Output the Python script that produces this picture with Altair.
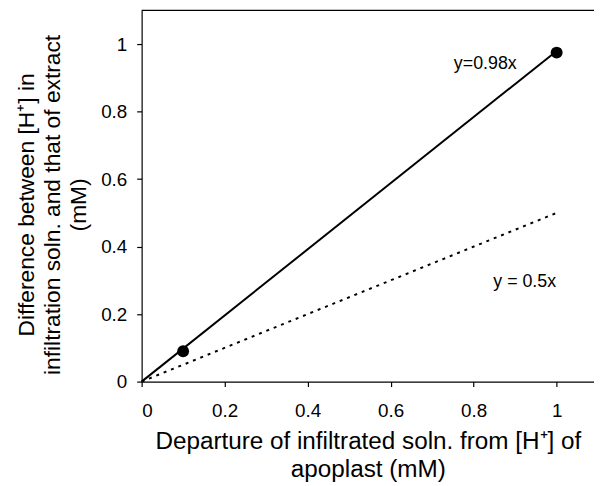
import altair as alt
import pandas as pd

# data
fit_x = [0, 1]
fit_098 = [0, 0.98]
fit_05 = [0, 0.5]
pts_x = [0.1, 1.0]
pts_y = [0.09, 0.975]
ann_text = ["y=0.98x", "y = 0.5x"]
ann_x = [0.828, 0.923]
ann_y = [0.942, 0.296]
x_ticks = [0, 0.2, 0.4, 0.6, 0.8, 1]
y_ticks = [0, 0.2, 0.4, 0.6, 0.8, 1]
x_max = 1.09
y_max = 1.1

FONT = "Liberation Sans"

lines_df = pd.DataFrame({
    "x": fit_x + fit_x,
    "y": fit_098 + fit_05,
    "s": ["a", "a", "b", "b"],
})
pts_df = pd.DataFrame({"x": pts_x, "y": pts_y})
ann_df = pd.DataFrame({"x": ann_x, "y": ann_y, "t": ann_text})

xscale = alt.Scale(domain=[0, x_max], nice=False, zero=False)
yscale = alt.Scale(domain=[0, y_max], nice=False, zero=False)

x_axis = alt.Axis(
    values=x_ticks, format="~g", orient="bottom",
    title=["Departure of infiltrated soln. from [H\u207a] of", "apoplast (mM)"],
    titleY=49, titleLineHeight=28, titleFontSize=24.5,
)
y_axis = alt.Axis(
    values=y_ticks, format="~g",
    title=["Difference between [H\u207a] in", "infiltration soln. and that of extract", "(mM)"],
    titleX=-104, titleY=196, titleLineHeight=26, titleAngle=-90,
    titleAlign="center", titleFontSize=23,
)

solid = alt.Chart(lines_df[lines_df.s == "a"]).mark_line(color="black", strokeWidth=2).encode(
    x=alt.X("x:Q", scale=xscale, axis=x_axis),
    y=alt.Y("y:Q", scale=yscale, axis=y_axis),
)
dotted = alt.Chart(lines_df[lines_df.s == "b"]).mark_line(
    color="black", strokeWidth=2, strokeDash=[3, 5]
).encode(x="x:Q", y="y:Q")
points = alt.Chart(pts_df).mark_point(filled=True, color="black", size=145, opacity=1).encode(
    x="x:Q", y="y:Q"
)
texts = alt.Chart(ann_df).mark_text(font=FONT, fontSize=18, color="black").encode(
    x="x:Q", y="y:Q", text="t:N",
)
frame_top = alt.Chart(pd.DataFrame({"a": [0]})).mark_rule(color="black", strokeWidth=1.2).encode(
    x=alt.datum(0), x2=alt.datum(x_max), y=alt.datum(y_max)
)

chart = (
    alt.layer(solid, dotted, points, texts, frame_top)
    .properties(
        width=457, height=375,
        padding={"left": 135, "top": 0, "right": 0, "bottom": 100},
        autosize=alt.AutoSizeParams(type="none"),
    )
    .configure_view(stroke=None)
    .configure_axis(
        grid=False,
        domainColor="black", domainWidth=1.2,
        tickColor="black", tickSize=5, tickWidth=1.2,
        labelColor="black", labelFont=FONT, labelFontSize=19,
        titleColor="black", titleFont=FONT, titleFontWeight="normal",
    )
    .configure_axisX(labelPadding=15)
    .configure_axisY(labelPadding=10)
)

chart.save("out.html", embed_options={"renderer": "svg", "actions": False})
